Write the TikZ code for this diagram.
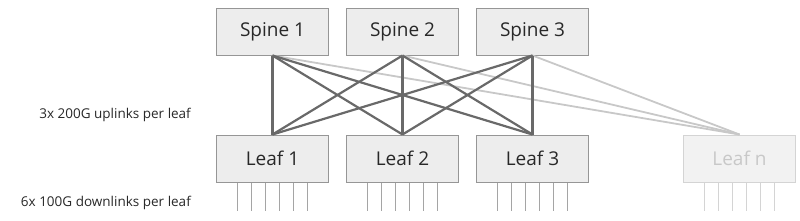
\documentclass[tikz,border=0pt]{standalone}
\usepackage{fontspec}
\setmainfont{Open Sans}
\usetikzlibrary{%
	calc,%
	positioning,%
}
\definecolor{cboxfill}{RGB}{237, 237, 237}
\definecolor{cboxdraw}{RGB}{150, 150, 150}
\definecolor{clink}{RGB}{105, 105, 105}
\definecolor{clinklight}{RGB}{200, 200, 200}
\definecolor{cdown}{RGB}{165, 165, 165}
\definecolor{cfade}{RGB}{242, 242, 242}
\definecolor{cfadedraw}{RGB}{212, 212, 212}
\definecolor{cfadetext}{RGB}{200, 200, 200}
\definecolor{ctext}{RGB}{40, 40, 40}
\tikzset{
	nodes={align=center},%
	switchnode/.style={%
			draw=cboxdraw,%
			fill=cboxfill,%
			rectangle,%
			line width=1pt,%
			text=ctext,%
			font={\fontsize{19}{21}\selectfont},%
			minimum width=112pt,%
			minimum height=47pt,%
			inner sep=0},%
	fadednode/.style={%
			switchnode,%
			draw=cfadedraw,%
			fill=cfade,%
			text=cfadetext},%
	labelnode/.style={%
			anchor=east,%
			text=ctext,%
			inner sep=0,%
			font={\fontsize{13.5}{15}\selectfont}},%
	uplink/.style={line width=2.2pt, draw=clink},%
	uplinkfaded/.style={line width=1.8pt, draw=clinklight},%
	downlink/.style={line width=1.1pt, draw=cdown},%
	downlinkfaded/.style={line width=1.1pt, draw=cfadedraw},%
}

\begin{document}
\begin{tikzpicture}[x=1pt, y=-1pt, node distance=17pt]%
	\useasboundingbox (0,0) rectangle (800,220);
	\node[switchnode] (s1) at (272.5,31.5) {Spine 1};
	\node[switchnode] (s2) [right=of s1] {Spine 2};
	\node[switchnode] (s3) [right=of s2] {Spine 3};
	\node[switchnode] (l1) at (272.5,158.5) {Leaf 1};
	\node[switchnode] (l2) [right=of l1] {Leaf 2};
	\node[switchnode] (l3) [right=of l2] {Leaf 3};
	\node[fadednode] (ln) [right=94pt of l3] {Leaf n};

	\node[labelnode] (up) at (191,115) {3x 200G uplinks per leaf};
	\node[labelnode] (down) at (191,203) {6x 100G downlinks per leaf};

	% links to the last leaf
	\foreach \s in {s1,s2,s3}
		\draw[uplinkfaded] (\s.south) to (ln.north);
	% full mesh
	\foreach \s in {s1,s2,s3}
		\foreach \l in {l1,l2,l3}
			\draw[uplink] (\s.south) to (\l.north);
	% downlinks
	\foreach \l in {l1,l2,l3}
		\foreach \dx in {-35,-21,-7,7,21,35}
			\draw[downlink] ($(\l.south)+(\dx,0.5)$) to ++(0,28);
	\foreach \dx in {-35,-21,-7,7,21,35}
		\draw[downlinkfaded] ($(ln.south)+(\dx,0.5)$) to ++(0,28);
\end{tikzpicture}
\end{document}
